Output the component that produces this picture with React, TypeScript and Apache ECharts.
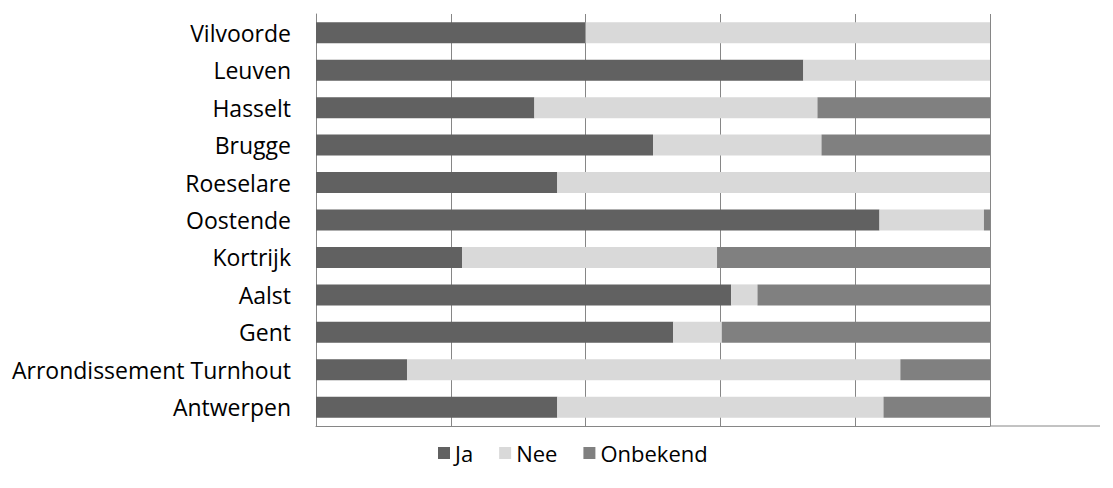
import React, { useEffect, useRef } from "react";
import * as echarts from "echarts";

const categories = [
  "Antwerpen",
  "Arrondissement Turnhout",
  "Gent",
  "Aalst",
  "Kortrijk",
  "Oostende",
  "Roeselare",
  "Brugge",
  "Hasselt",
  "Leuven",
  "Vilvoorde",
];
const ja = [35.8, 13.5, 53.0, 61.6, 21.7, 83.6, 35.8, 50.0, 32.4, 72.3, 40.0];
const nee = [48.4, 73.2, 7.2, 3.9, 37.8, 15.5, 64.2, 25.0, 42.0, 27.7, 60.0];
const onbekend = [15.8, 13.3, 39.8, 34.5, 40.5, 0.9, 0, 25.0, 25.6, 0, 0];

export default function App() {
  const ref = useRef<HTMLDivElement>(null);
  useEffect(() => {
    if (!ref.current) return;
    const chart = echarts.init(ref.current, undefined, { renderer: "svg" });
    const font = "'Open Sans', 'Noto Sans', sans-serif";
    chart.setOption({
      animation: false,
      textStyle: { fontFamily: font },
      grid: { left: 316, right: 123, top: 14, bottom: 62, containLabel: false },
      legend: {
        data: ["Ja", "Nee", "Onbekend"],
        left: 433,
        top: 437,
        padding: 5,
        itemWidth: 12,
        itemHeight: 12,
        itemGap: 26,
        icon: "rect",
        textStyle: { fontSize: 22, color: "#000", fontFamily: font },
      },
      xAxis: {
        type: "value",
        min: 0,
        max: 100,
        interval: 20,
        axisLabel: { show: false },
        axisTick: { show: false },
        axisLine: { show: true, lineStyle: { color: "#868686", width: 1 } },
        splitLine: { show: true, lineStyle: { color: "#868686", width: 1 } },
      },
      yAxis: {
        type: "category",
        data: categories,
        axisTick: { show: false },
        axisLine: { show: true, lineStyle: { color: "#868686", width: 1 } },
        axisLabel: { fontSize: 23, color: "#000", margin: 25, fontFamily: font },
      },
      graphic: [
        {
          type: "line",
          shape: { x1: 990, y1: 426, x2: 1100, y2: 426 },
          style: { stroke: "#868686", lineWidth: 1 },
          silent: true,
        },
      ],
      series: [
        { name: "Ja", type: "bar", stack: "t", data: ja, barWidth: 21, itemStyle: { color: "#616161" } },
        { name: "Nee", type: "bar", stack: "t", data: nee, barWidth: 21, itemStyle: { color: "#d9d9d9" } },
        { name: "Onbekend", type: "bar", stack: "t", data: onbekend, barWidth: 21, itemStyle: { color: "#808080" } },
      ],
    });
    return () => chart.dispose();
  }, []);
  return <div ref={ref} style={{ width: 1113, height: 488, margin: -8 }} />;
}
